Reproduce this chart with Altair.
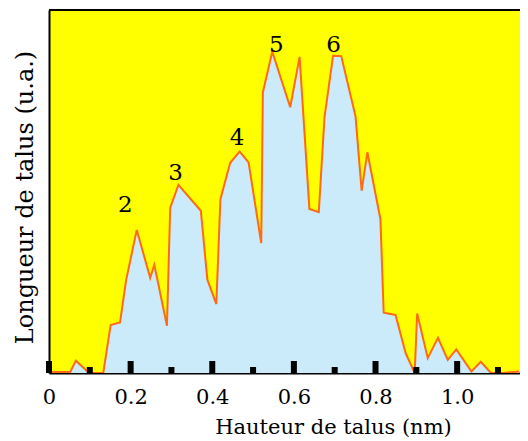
import altair as alt
import pandas as pd

# Profile (height in nm vs. relative length, plot units 0-100)
heights = [0.000, 0.052, 0.066, 0.098, 0.133, 0.151, 0.174, 0.189, 0.215, 0.248,
           0.258, 0.289, 0.297, 0.317, 0.372, 0.388, 0.410, 0.420, 0.444, 0.467,
           0.489, 0.520, 0.524, 0.547, 0.591, 0.614, 0.638, 0.661, 0.675, 0.696,
           0.716, 0.751, 0.766, 0.780, 0.812, 0.820, 0.849, 0.874, 0.896, 0.902,
           0.928, 0.953, 0.977, 0.998, 1.035, 1.058, 1.082, 1.111, 1.152]
lengths = [0.3, 0.3, 3.4, 0, 0, 13.2, 13.9, 25.6, 39.4, 26.2,
           29.8, 13.0, 45.5, 51.8, 44.7, 25.7, 19.0, 47.9, 57.9, 61.0,
           58.0, 35.8, 77.3, 88.5, 73.2, 87.1, 45.2, 44.3, 70.4, 87.4,
           87.3, 70.7, 50.2, 60.8, 42.4, 16.6, 16.0, 5.4, 0, 16.4,
           4.1, 9.7, 3.6, 6.5, 0.4, 3.1, 0.1, 0, 0.4]

peak_labels = ["2", "3", "4", "5", "6"]
peak_x = [0.187, 0.310, 0.461, 0.557, 0.697]
peak_y = [46.3, 55.1, 64.7, 90.4, 90.4]

major_ticks = [0.0, 0.2, 0.4, 0.6, 0.8, 1.0]
minor_ticks = [0.1, 0.3, 0.5, 0.7, 0.9, 1.1]

W, H = 471, 363
FONT = "DejaVu Serif"
XMAX = 1.154

df = pd.DataFrame({"x": heights, "y": lengths})
peaks = pd.DataFrame({"x": peak_x, "y": peak_y, "t": peak_labels})
majors = pd.DataFrame({"x": major_ticks})
minors = pd.DataFrame({"x": minor_ticks})

xscale = alt.Scale(domain=[0, XMAX], nice=False, zero=False)
yscale = alt.Scale(domain=[0, 100], nice=False)

area = alt.Chart(df).mark_area(
    color="#CCEBFA", opacity=1, clip=True,
    line={"color": "#FF6A13", "strokeWidth": 2},
).encode(
    x=alt.X("x:Q", scale=xscale,
            axis=alt.Axis(values=major_ticks,
                          labelExpr="datum.value == 0 ? '0' : format(datum.value, '.1f')",
                          ticks=True, tickSize=0, labelPadding=30, labelFlush=False,
                          labelBaseline="alphabetic",
                          labelFont=FONT, labelFontSize=21, labelColor="black",
                          domainColor="black", domainWidth=2, grid=False,
                          title="Hauteur de talus (nm)", titleFont=FONT,
                          titleFontSize=21, titleFontWeight="normal", titleColor="black",
                          titleX=284, titleY=60, titleAlign="center",
                          titleBaseline="alphabetic")),
    y=alt.Y("y:Q", scale=yscale,
            axis=alt.Axis(labels=False, ticks=False, grid=False,
                          domainColor="black", domainWidth=2,
                          title="Longueur de talus (u.a.)", titleFont=FONT,
                          titleFontSize=24, titleFontWeight="normal", titleColor="black",
                          titleX=-17, titleY=187, titleAlign="center",
                          titleBaseline="alphabetic", titleAngle=270)),
)

major_rules = alt.Chart(majors).mark_rule(color="black", strokeWidth=6).encode(
    x=alt.X("x:Q", scale=xscale),
    y=alt.value(H - 12), y2=alt.value(H),
)
minor_rules = alt.Chart(minors).mark_rule(color="black", strokeWidth=6).encode(
    x=alt.X("x:Q", scale=xscale),
    y=alt.value(H - 6), y2=alt.value(H),
)

top_border = alt.Chart(pd.DataFrame({"a": [0]})).mark_rule(color="black", strokeWidth=2).encode(
    x=alt.value(0), x2=alt.value(W), y=alt.value(0)
)

texts = alt.Chart(peaks).mark_text(font=FONT, fontSize=23, color="black", baseline="middle").encode(
    x=alt.X("x:Q", scale=xscale),
    y=alt.Y("y:Q", scale=yscale),
    text="t:N",
)

chart = alt.layer(area, major_rules, minor_rules, top_border, texts).properties(
    width=W, height=H,
    autosize=alt.AutoSizeParams(type="none"),
    padding={"left": 41, "top": 2, "right": 0, "bottom": 64},
    background="white",
).configure_view(fill="#FFFF00", stroke=None)

chart.save("out.html", embed_options={"renderer": "svg", "actions": False})
